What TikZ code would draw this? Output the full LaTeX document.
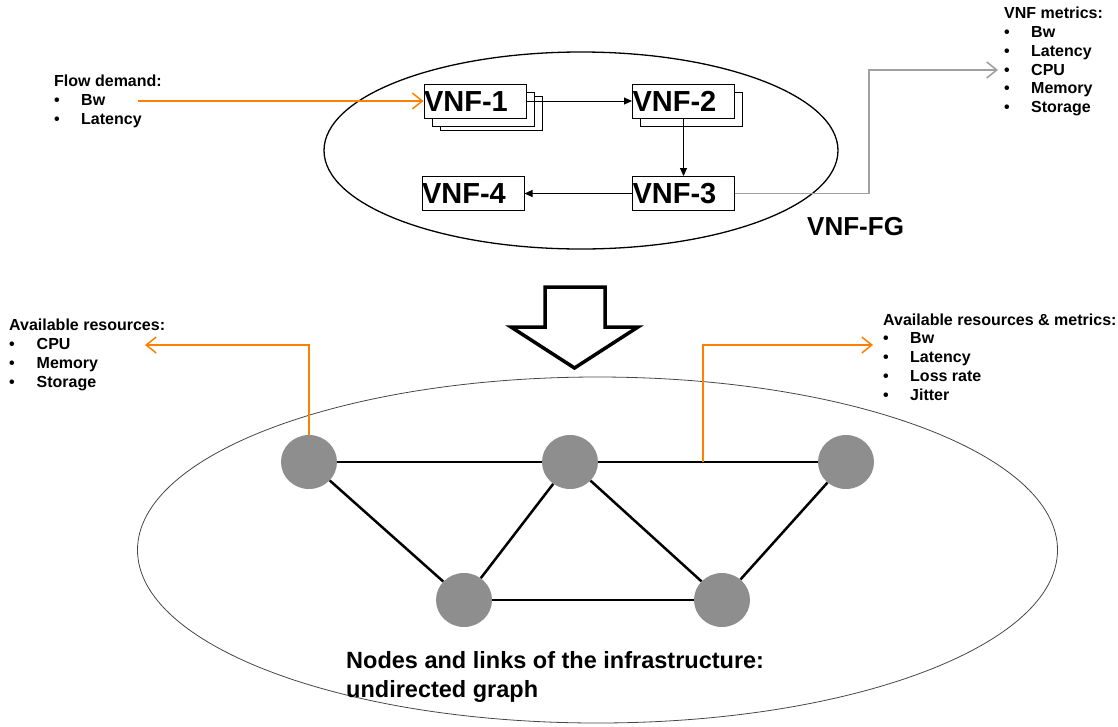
\documentclass[tikz,border=0pt]{standalone}
\usepackage{fontspec}
\setmainfont{Liberation Sans}
\usetikzlibrary{arrows.meta,shapes.geometric,calc}
\definecolor{orng}{RGB}{255,128,0}
\definecolor{gline}{RGB}{160,160,160}
\definecolor{gnode}{RGB}{142,142,142}
\definecolor{ellgray}{RGB}{70,70,70}
\begin{document}
\begin{tikzpicture}[x=1pt,y=-1pt,
  txt/.style={anchor=base west,inner sep=0pt,font=\fontsize{16}{19}\selectfont\bfseries},
  bigtxt/.style={anchor=base west,inner sep=0pt,font=\fontsize{23.5}{28}\selectfont\bfseries},
  vnfbox/.style={draw,fill=white,line width=1pt,minimum width=102pt,minimum height=34pt,
    inner sep=0pt,text width=102pt,align=left,text height=20.8pt,text depth=0pt,
    font=\fontsize{29}{29}\selectfont\bfseries},
  shadowbox/.style={draw,fill=white,line width=1pt,minimum width=102pt,minimum height=34pt,inner sep=0pt},
  flowarrow/.style={line width=1pt,-{Triangle[length=8pt,width=7pt]}},
  orarrow/.style={draw=orng,line width=1.5pt,-{Straight Barb[length=10pt,width=16pt]}},
  grarrow/.style={draw=gline,line width=1.6pt,-{Straight Barb[length=10pt,width=16pt]}},
  infranode/.style={ellipse,fill=gnode,minimum width=56pt,minimum height=54pt,inner sep=0pt},
  link/.style={line width=2.5pt},
]
\useasboundingbox (0,0) rectangle (1118,726);

% ellipses
\node[ellipse,draw,line width=1.3pt,minimum width=514pt,minimum height=197pt] (fg) at (581,150.5) {};
\node[ellipse,draw=ellgray,line width=0.8pt,minimum width=920pt,minimum height=346pt] (infra) at (597.5,550) {};

% VNF boxes
\node[shadowbox] (v1c) at (491,113) {};
\node[shadowbox] (v1b) at (483,109) {};
\node[vnfbox] (v1) at (475,101) {VNF-1};
\node[shadowbox] (v2b) at (691.5,109) {};
\node[vnfbox] (v2) at (683.5,101) {VNF-2};
\node[vnfbox] (v3) at (683.5,193.5) {VNF-3};
\node[vnfbox] (v4) at (473,193.5) {VNF-4};

\draw[flowarrow] (v1.east) -- (v2.west);
\draw[flowarrow] (v2.south) -- (v3.north);
\draw[flowarrow] (v3.west) -- (v4.east);

\node[anchor=base west,inner sep=0pt,font=\fontsize{26}{26}\selectfont\bfseries] (fglabel) at (807,235) {VNF-FG};

% Flow demand
\node[txt] (fdh) at (54,86.5) {Flow demand:};
\foreach \t [count=\i] in {Bw,Latency} {
  \node[txt] (fdb\i) at (54,{86.5+19*\i}) {•};
  \node[txt] (fdt\i) at (81,{86.5+19*\i}) {\t};
}
\coordinate (fdstart) at (138,101);
\draw[orarrow] (fdstart) -- (v1.west);

% VNF metrics
\node[txt] (vmh) at (1004,18.3) {VNF metrics:};
\foreach \t [count=\i] in {Bw,Latency,CPU,Memory,Storage} {
  \node[txt] (vmb\i) at (1004,{18.3+18.9*\i}) {•};
  \node[txt] (vmt\i) at (1031,{18.3+18.9*\i}) {\t};
}
\coordinate (gbend) at (869,70);
\coordinate (vmtip) at (998,70);
\draw[grarrow] (v3.east) -| (gbend) -- (vmtip);

% big hollow arrow
\draw[line width=3.5pt,line join=miter,fill=white] (545,287) -- (605,287) -- (605,327) -- (638,327)
  -- (574.5,368) -- (511,327) -- (545,327) -- cycle;

% infrastructure graph
\node[infranode] (n1) at (309,462) {};
\node[infranode] (n2) at (570,462) {};
\node[infranode] (n3) at (846,462) {};
\node[infranode] (n4) at (464,600) {};
\node[infranode] (n5) at (722,600) {};
\draw[link] (n1) -- (n2);
\draw[link] (n2) -- (n3);
\draw[link] (n1) -- (n4);
\draw[link] (n2) -- (n4);
\draw[link] (n2) -- (n5);
\draw[link] (n3) -- (n5);
\draw[link] (n4) -- (n5);

% Available resources (left)
\node[txt] (arh) at (9,330.7) {Available resources:};
\foreach \t [count=\i] in {CPU,Memory,Storage} {
  \node[txt] (arb\i) at (9,{330.7+19*\i}) {•};
  \node[txt] (art\i) at (36.5,{330.7+19*\i}) {\t};
}
\coordinate (artip) at (145,345);
\draw[orarrow] (n1.north) |- (artip);

% Available resources & metrics (right)
\node[txt] (amh) at (883,325) {Available resources \& metrics:};
\foreach \t [count=\i] in {Bw,Latency,Loss rate,Jitter} {
  \node[txt] (amb\i) at (883,{324.5+18.9*\i}) {•};
  \node[txt] (amt\i) at (910,{324.5+18.9*\i}) {\t};
}
\coordinate (tap) at (703,462);
\coordinate (amtip) at (873,345);
\draw[orarrow] (tap) |- (amtip);

% bottom caption
\node[bigtxt] (cap1) at (346,668) {Nodes and links of the infrastructure:};
\node[bigtxt] (cap2) at (346,697) {undirected graph};
\end{tikzpicture}
\end{document}
